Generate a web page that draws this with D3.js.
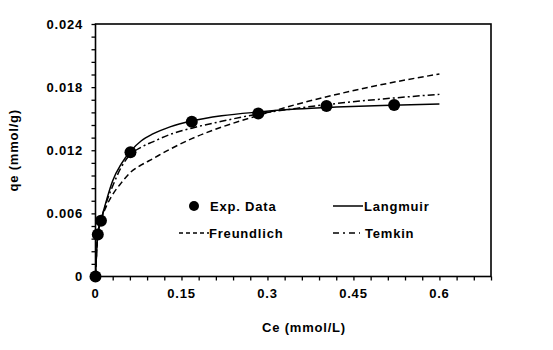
<!DOCTYPE html>
<html>
<head>
<meta charset="utf-8">
<script src="https://cdn.jsdelivr.net/npm/d3@7/dist/d3.min.js"></script>
<style>
  html, body { margin: 0; padding: 0; background: #fff; }
  svg text { font-family: "Liberation Sans", Arial, sans-serif; font-weight: bold; font-size: 13px; letter-spacing: 0.8px; fill: #000; }
</style>
</head>
<body>
<svg id="chart" width="553" height="350"></svg>
<script>
// Experimental equilibrium data
const ceExp = [0, 0.004, 0.0095, 0.061, 0.168, 0.284, 0.403, 0.521];
const qeExp = [0, 0.0040, 0.0053, 0.0118, 0.0147, 0.0155, 0.0162, 0.0163];

// Isotherm model curves, sampled along Ce
const ceModel = [0, 0.004, 0.0095, 0.02, 0.03, 0.045, 0.061, 0.08, 0.1, 0.13, 0.168, 0.22, 0.284, 0.35, 0.42, 0.5, 0.6];
const qeLangmuir   = [0, 0.0040, 0.0053, 0.0074, 0.0091, 0.0107, 0.0119, 0.0129, 0.01355, 0.01422, 0.01478, 0.01527, 0.01563, 0.01591, 0.0161, 0.01626, 0.0164];
const qeFreundlich = [0, 0.0040, 0.0053, 0.0068, 0.0078, 0.0089, 0.0099, 0.0106, 0.0112, 0.0121, 0.0131, 0.0142, 0.0153, 0.01635, 0.0173, 0.01825, 0.01925];
const qeTemkin     = [0, 0.0040, 0.0053, 0.0072, 0.0086, 0.0104, 0.0116, 0.0123, 0.0128, 0.0135, 0.0141, 0.01475, 0.01545, 0.01598, 0.01644, 0.01687, 0.01732];

// Axis ticks
const xTicks = [0, 0.15, 0.3, 0.45, 0.6];
const xTickLabels = ["0", "0.15", "0.3", "0.45", "0.6"];
const yTicks = [0, 0.006, 0.012, 0.018, 0.024];
const yTickLabels = ["0", "0.006", "0.012", "0.018", "0.024"];

const svg = d3.select("#chart");
const plotL = 95.5, plotR = 491, plotT = 24, plotB = 276.5;

const x = d3.scaleLinear().domain([0, 0.69]).range([plotL, plotR]);
const y = d3.scaleLinear().domain([0, 0.024]).range([plotB, plotT]);

// Minor ticks
const xMinor = d3.range(0, 0.69 + 1e-9, 0.03);
const yMinor = d3.range(0, 0.024 + 1e-9, 0.0012);

const xAxis = d3.axisBottom(x).tickValues(xMinor).tickSize(4).tickFormat("");
const yAxis = d3.axisLeft(y).tickValues(yMinor).tickSize(4).tickFormat("");

const gx = svg.append("g").attr("transform", `translate(0,${plotB})`).call(xAxis);
const gy = svg.append("g").attr("transform", `translate(${plotL},0)`).call(yAxis);
[gx, gy].forEach(g => {
  g.select(".domain").remove();
  g.selectAll(".tick line").attr("stroke", "#000").attr("stroke-width", 1.3);
});

// Tick labels
svg.append("g").selectAll("text").data(xTicks).join("text")
  .attr("x", d => x(d)).attr("y", 298)
  .attr("text-anchor", "middle")
  .text((d, i) => xTickLabels[i]);

svg.append("g").selectAll("text").data(yTicks).join("text")
  .attr("x", 83).attr("y", d => y(d) + 4.5)
  .attr("text-anchor", "end")
  .text((d, i) => yTickLabels[i]);

// Frame
svg.append("rect")
  .attr("x", plotL).attr("y", plotT)
  .attr("width", plotR - plotL).attr("height", plotB - plotT)
  .attr("fill", "none").attr("stroke", "#000").attr("stroke-width", 1.6);

// Axis titles
svg.append("text").attr("x", 304).attr("y", 332).attr("text-anchor", "middle").text("Ce (mmol/L)");
svg.append("text")
  .attr("transform", `translate(18,${(plotT + plotB) / 2}) rotate(-90)`)
  .attr("text-anchor", "middle").text("qe (mmol/g)");

// Model curves
const line = d3.line().x(d => x(d[0])).y(d => y(d[1])).curve(d3.curveMonotoneX);
const models = [
  { q: qeLangmuir, dash: null },
  { q: qeFreundlich, dash: "6,3.5" },
  { q: qeTemkin, dash: "7,3,2,3" }
];
models.forEach(m => {
  svg.append("path")
    .datum(ceModel.map((c, i) => [c, m.q[i]]))
    .attr("d", line)
    .attr("fill", "none").attr("stroke", "#000").attr("stroke-width", 1.5)
    .attr("stroke-dasharray", m.dash);
});

// Experimental points
svg.append("g").selectAll("circle").data(ceExp.map((c, i) => [c, qeExp[i]])).join("circle")
  .attr("cx", d => x(d[0])).attr("cy", d => y(d[1])).attr("r", 6).attr("fill", "#000");

// Legend
const lg = svg.append("g");
lg.append("circle").attr("cx", 194).attr("cy", 206).attr("r", 5).attr("fill", "#000");
lg.append("text").attr("x", 210).attr("y", 211).text("Exp. Data");
lg.append("line").attr("x1", 179).attr("x2", 209).attr("y1", 233).attr("y2", 233)
  .attr("stroke", "#000").attr("stroke-width", 1.5).attr("stroke-dasharray", "4,3");
lg.append("text").attr("x", 209).attr("y", 238).text("Freundlich");
lg.append("line").attr("x1", 333).attr("x2", 363).attr("y1", 206).attr("y2", 206)
  .attr("stroke", "#000").attr("stroke-width", 1.5);
lg.append("text").attr("x", 364).attr("y", 211).text("Langmuir");
lg.append("line").attr("x1", 333).attr("x2", 360).attr("y1", 233).attr("y2", 233)
  .attr("stroke", "#000").attr("stroke-width", 1.5).attr("stroke-dasharray", "6,4,2,4");
lg.append("text").attr("x", 365).attr("y", 238).text("Temkin");
</script>
</body>
</html>
